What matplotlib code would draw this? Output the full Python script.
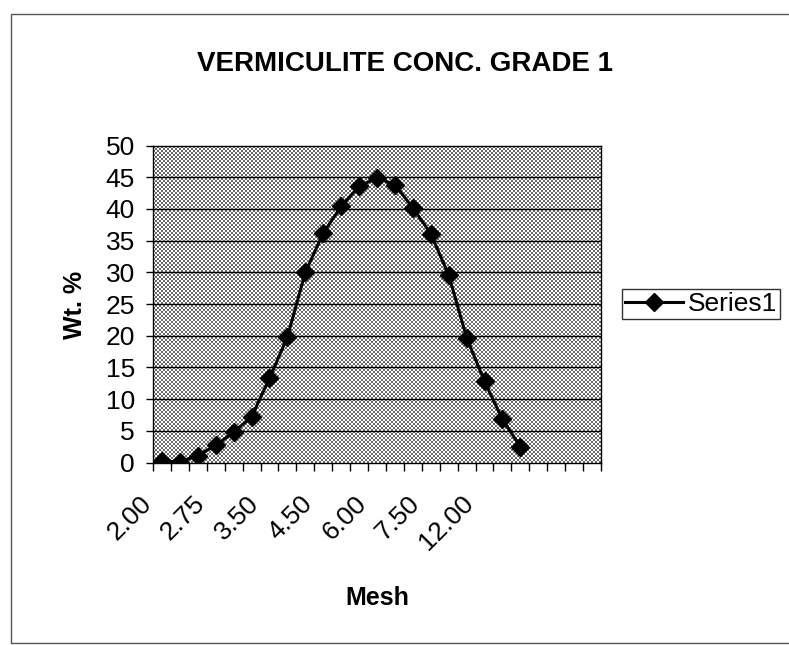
import numpy as np
import matplotlib.pyplot as plt
import matplotlib.transforms as mtransforms
from matplotlib.patches import Rectangle

plt.rcParams["font.family"] = ["Liberation Sans", "DejaVu Sans"]

# data (categories 1..25, only 21 carry values)
mesh_labels = ["2.00", "", "", "2.75", "", "", "3.50", "", "", "4.50", "", "", "6.00",
               "", "", "7.50", "", "", "12.00", "", "", "", "", "", ""]
wt_pct = [0.2, 0.1, 1.1, 2.7, 4.8, 7.2, 13.3, 19.8, 30.0, 36.2, 40.4, 43.6, 44.9,
          43.8, 40.2, 36.1, 29.6, 19.7, 12.8, 6.8, 2.5]
y_ticks = [0, 5, 10, 15, 20, 25, 30, 35, 40, 45, 50]

W, H = 789, 645
fig = plt.figure(figsize=(W / 100, H / 100), dpi=100)

# outer chart frame
fig.patches.append(Rectangle((11 / W, 1 - 643 / H), (W + 5 - 11) / W, (643 - 14) / H,
                             transform=fig.transFigure, fill=False, edgecolor="#555555",
                             linewidth=1))

x0, x1, ytop, ybot = 153, 601, 145.6, 462.5
ax = fig.add_axes([x0 / W, 1 - ybot / H, (x1 - x0) / W, (ybot - ytop) / H])

n_cat = len(mesh_labels)
x = np.arange(1, len(wt_pct) + 1)

# stippled grey plot area
nx, ny = int((x1 - x0) / 2), int((ybot - ytop) / 2)
ii, jj = np.indices((ny, nx))
pattern = ((ii + jj) % 2).astype(float)
ax.imshow(pattern, cmap="gray", vmin=-0.7, vmax=1.0, extent=(0.5, n_cat + 0.5, 0, 50),
          aspect="auto", interpolation="nearest", zorder=0)

for yv in y_ticks[1:-1]:
    ax.axhline(yv, color="black", linewidth=1, zorder=1)

ax.plot(x, wt_pct, color="black", linewidth=2.2, marker="D", markersize=9.5,
        label="Series1", zorder=3)

ax.set_xlim(0.5, n_cat + 0.5)
ax.set_ylim(0, 50)
ax.set_yticks(y_ticks)
ax.tick_params(axis="y", labelsize=19, length=5, width=1, direction="out", pad=8)

ax.set_xticks(np.arange(0.5, n_cat + 1.5, 1))
ax.set_xticklabels([])
ax.tick_params(axis="x", which="major", length=6, width=1, direction="out")
ax.set_xticks(np.arange(1, n_cat + 1), minor=True)
ax.set_xticklabels(mesh_labels, minor=True, rotation=45, ha="right",
                   rotation_mode="anchor", fontsize=19)
ax.tick_params(axis="x", which="minor", length=0, pad=10)
shift = mtransforms.ScaledTranslation(-0.23, -0.15, fig.dpi_scale_trans)
for lab in ax.get_xticklabels(minor=True):
    lab.set_transform(lab.get_transform() + shift)

for s in ax.spines.values():
    s.set_color("black")
    s.set_linewidth(1)

ax.set_xlabel("Mesh", fontsize=18, fontweight="bold", va="center")
ax.xaxis.set_label_coords(0.5, (ybot - 598) / (ybot - ytop))
ax.set_ylabel("Wt. %", fontsize=18, fontweight="bold", va="center")
ax.yaxis.set_label_coords((75 - x0) / (x1 - x0), (ybot - 305) / (ybot - ytop))

fig.text(405 / W, 1 - 64 / H, "VERMICULITE CONC. GRADE 1", fontsize=20,
         fontweight="bold", ha="center", va="center")

fig.legend(loc="center left", bbox_to_anchor=(622 / W, 1 - 304 / H), fontsize=19,
           frameon=True, fancybox=False, edgecolor="black", handlelength=2.2,
           borderpad=0.1, handletextpad=0.2, borderaxespad=0)

plt.savefig("out.png", dpi=100)
